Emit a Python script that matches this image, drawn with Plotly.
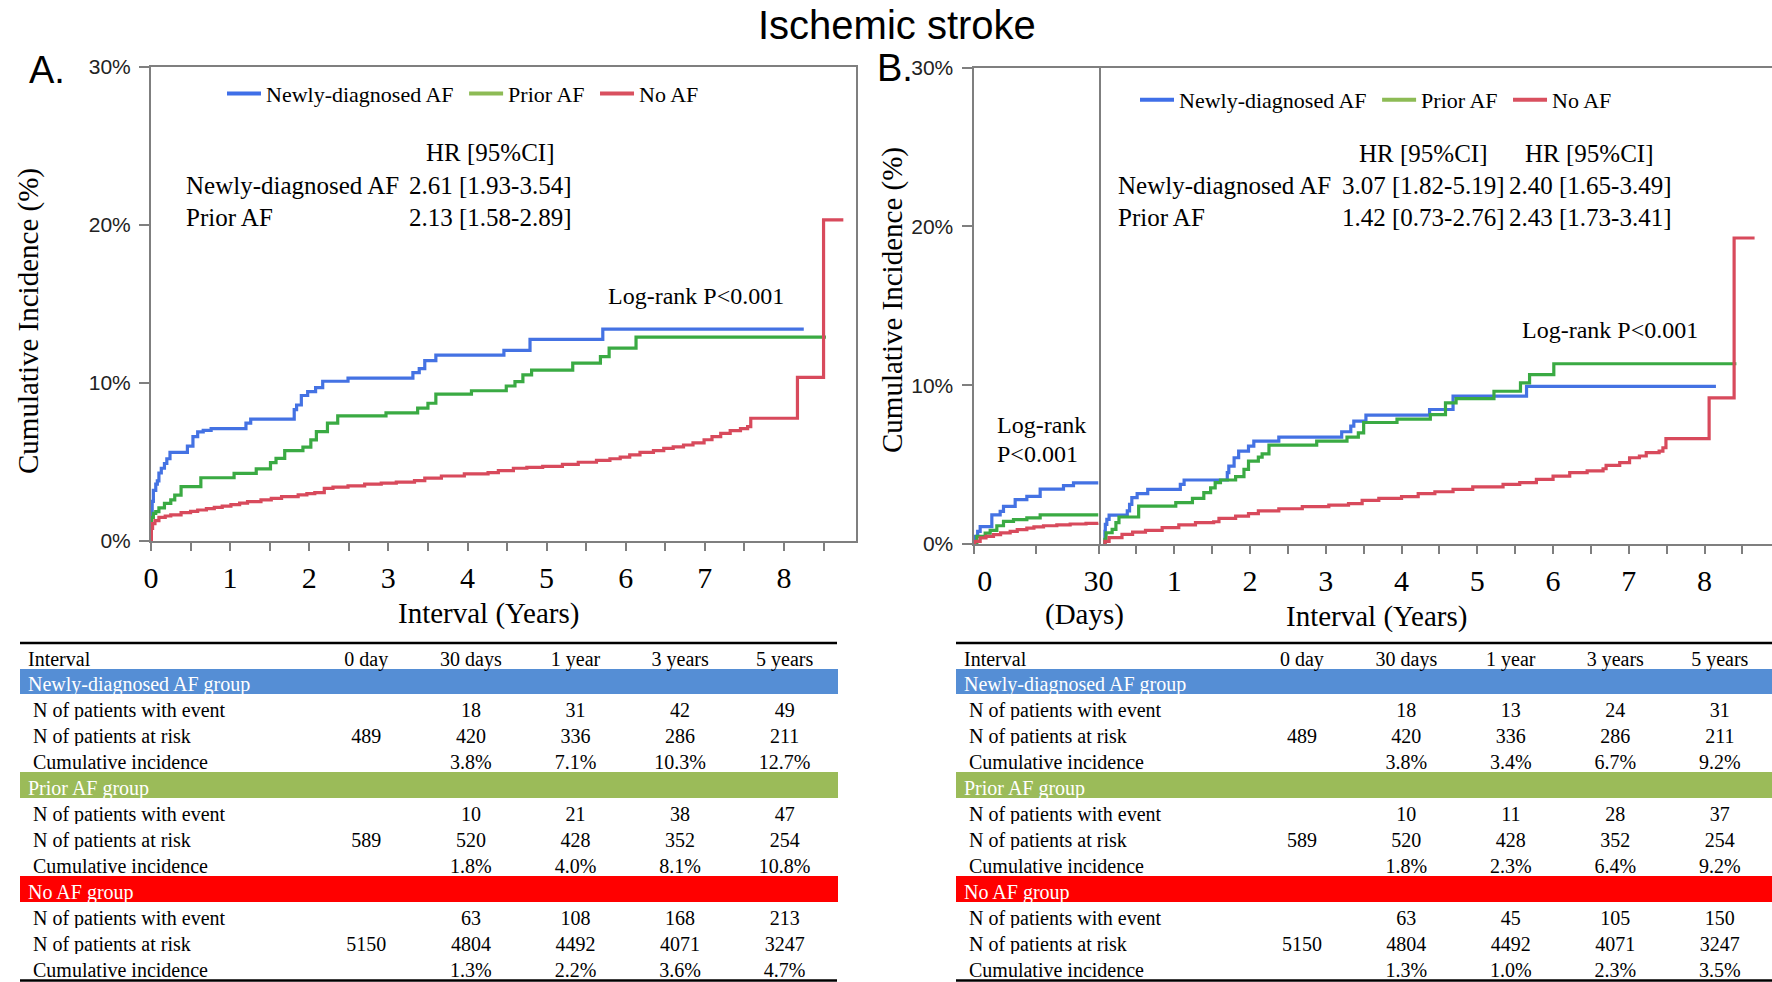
import plotly.graph_objects as go

W, H = 1772, 982
def px(x):
    return x / W
def py(y):
    return 1 - y / H

SERIF = "Liberation Serif"
SANS = "Liberation Sans"

series_names = ["Newly-diagnosed AF", "Prior AF", "No AF"]
line_colors = ["#4472E3", "#3AAA43", "#D84A5C"]
legend_colors = ["#3F6FE8", "#8DBB55", "#D9505F"]
band_colors = ["#558ED5", "#9BBB59", "#FF0000"]

# ---------------- Panel A (years) ----------------
A_nd_t = [0, 0.005, 0.015, 0.03, 0.06, 0.08, 0.10, 0.13, 0.17, 0.20, 0.24, 0.46, 0.53, 0.59, 0.66, 0.76,
          1.20, 1.26, 1.81, 1.84, 1.90, 1.98, 2.08, 2.17, 2.49, 3.31, 3.39, 3.46, 3.60, 4.46, 4.79, 5.71, 8.25]
A_nd_v = [0, 1.5, 2.5, 3.2, 3.6, 3.8, 4.3, 4.6, 4.9, 5.2, 5.6, 6.0, 6.6, 6.9, 7.0, 7.1,
          7.45, 7.7, 8.3, 8.6, 9.2, 9.45, 9.7, 10.1, 10.3, 10.65, 10.9, 11.4, 11.75, 12.05, 12.75, 13.4, 13.4]

A_pr_t = [0, 0.005, 0.03, 0.06, 0.10, 0.17, 0.25, 0.30, 0.38, 0.63, 1.05, 1.33, 1.51, 1.58, 1.69, 1.92,
          2.02, 2.09, 2.23, 2.36, 2.97, 3.37, 3.50, 3.60, 4.05, 4.49, 4.60, 4.70, 4.81, 5.33, 5.68, 5.79, 6.13, 8.53]
A_pr_v = [0, 1.5, 1.75, 1.86, 2.1, 2.38, 2.6, 2.9, 3.44, 4.0, 4.28, 4.56, 4.96, 5.23, 5.72, 5.93,
          6.39, 6.92, 7.45, 7.91, 8.1, 8.4, 8.71, 9.28, 9.5, 9.8, 10.08, 10.5, 10.8, 11.24, 11.66, 12.2, 12.89, 12.89]

A_no_t = [0, 0.005, 0.02, 0.05, 0.1, 0.18, 0.25, 0.38, 0.5, 0.59, 0.7, 0.8, 0.9, 1.01, 1.12, 1.22, 1.39,
          1.52, 1.65, 1.86, 1.97, 2.07, 2.19, 2.3, 2.49, 2.7, 2.91, 3.1, 3.33, 3.46, 3.67, 3.96, 4.26, 4.39,
          4.58, 4.75, 4.95, 5.2, 5.4, 5.63, 5.8, 5.93, 6.05, 6.18, 6.35, 6.48, 6.6, 6.73, 6.85, 6.99, 7.09,
          7.2, 7.32, 7.45, 7.54, 7.58, 8.17, 8.50, 8.75]
A_no_v = [0, 0.8, 1.1, 1.29, 1.5, 1.58, 1.65, 1.79, 1.87, 1.96, 2.05, 2.13, 2.2, 2.3, 2.4, 2.49, 2.6,
          2.7, 2.8, 2.91, 3.0, 3.06, 3.33, 3.4, 3.48, 3.6, 3.66, 3.72, 3.82, 3.97, 4.11, 4.24, 4.32, 4.45,
          4.6, 4.65, 4.72, 4.85, 4.98, 5.1, 5.2, 5.3, 5.45, 5.6, 5.72, 5.85, 5.95, 6.07, 6.2, 6.4, 6.6,
          6.8, 6.98, 7.1, 7.23, 7.76, 10.35, 20.3, 20.3]

# ---------------- Panel B, first 30 days ----------------
B_d_nd_t = [0, 0.4, 1.0, 1.6, 4.4, 6.4, 7.2, 10, 12.8, 16, 21.6, 24, 30]
B_d_nd_v = [0, 0.48, 0.8, 1.1, 1.84, 2.05, 2.37, 2.79, 3.0, 3.46, 3.67, 3.85, 3.85]
B_d_pr_t = [0, 0.8, 2.8, 4.0, 5.6, 7.2, 9.6, 12.8, 16, 30]
B_d_pr_v = [0, 0.48, 0.69, 0.86, 1.15, 1.43, 1.53, 1.64, 1.84, 1.84]
B_d_no_t = [0, 0.3, 1.6, 3, 4.8, 6.5, 8.8, 10.5, 12.8, 14.5, 16.8, 20, 23.2, 27, 30]
B_d_no_v = [0, 0.17, 0.38, 0.48, 0.59, 0.7, 0.8, 0.9, 1.0, 1.08, 1.15, 1.2, 1.26, 1.3, 1.32]

# ---------------- Panel B, landmark after 30 days (years) ----------------
B_y_nd_t = [0.082, 0.085, 0.09, 0.11, 0.14, 0.38, 0.41, 0.44, 0.51, 0.65, 1.08, 1.13, 1.70, 1.72, 1.79,
            1.85, 1.98, 2.05, 2.38, 3.21, 3.33, 3.37, 3.53, 4.37, 4.68, 5.65, 8.15]
B_y_nd_v = [0, 0.8, 1.23, 1.55, 1.82, 2.08, 2.5, 2.92, 3.17, 3.44, 3.75, 4.03, 4.5, 4.91, 5.43,
            5.85, 6.16, 6.48, 6.73, 7.07, 7.42, 7.74, 8.12, 8.47, 9.31, 9.92, 9.92]
B_y_pr_t = [0.082, 0.085, 0.10, 0.18, 0.23, 0.27, 0.53, 1.02, 1.24, 1.39, 1.48, 1.54, 1.61, 1.81, 1.92,
            1.98, 2.11, 2.16, 2.25, 2.88, 3.28, 3.43, 3.50, 3.94, 4.38, 4.58, 4.72, 5.22, 5.57, 5.69, 6.01, 8.42]
B_y_pr_v = [0, 0.29, 0.71, 0.92, 1.34, 1.7, 2.39, 2.6, 2.87, 3.23, 3.54, 3.86, 4.03, 4.24, 4.7,
            5.22, 5.47, 5.68, 6.23, 6.48, 6.73, 7.0, 7.65, 7.86, 8.15, 8.89, 9.16, 9.62, 10.15, 10.67, 11.35, 11.35]
B_y_no_t = [0.082, 0.085, 0.14, 0.31, 0.45, 0.62, 0.84, 1.06, 1.28, 1.52, 1.59, 1.81, 1.98, 2.11, 2.38,
            2.69, 3.04, 3.3, 3.48, 3.7, 4.0, 4.22, 4.44, 4.68, 4.94, 5.34, 5.56, 5.78, 6.0, 6.22, 6.45,
            6.66, 6.7, 6.88, 7.01, 7.14, 7.23, 7.4, 7.45, 7.49, 8.06, 8.39, 8.66]
B_y_no_v = [0, 0.16, 0.4, 0.61, 0.75, 0.86, 1.03, 1.2, 1.34, 1.4, 1.61, 1.76, 1.91, 2.08, 2.22,
            2.35, 2.45, 2.54, 2.75, 2.87, 2.98, 3.17, 3.29, 3.44, 3.6, 3.75, 3.86, 4.07, 4.28, 4.49, 4.6,
            4.74, 4.95, 5.12, 5.43, 5.54, 5.75, 5.85, 6.06, 6.63, 9.2, 19.27, 19.27]

# ---------------- Tables ----------------
interval_labels = ["Interval", "0 day", "30 days", "1 year", "3 years", "5 years"]
group_labels = ["Newly-diagnosed AF group", "Prior AF group", "No AF group"]
row_labels = ["N of patients with event", "N of patients at risk", "Cumulative incidence"]

at_risk_nd = ["489", "420", "336", "286", "211"]
at_risk_pr = ["589", "520", "428", "352", "254"]
at_risk_no = ["5150", "4804", "4492", "4071", "3247"]

A_event_nd = ["", "18", "31", "42", "49"]
A_ci_nd = ["", "3.8%", "7.1%", "10.3%", "12.7%"]
A_event_pr = ["", "10", "21", "38", "47"]
A_ci_pr = ["", "1.8%", "4.0%", "8.1%", "10.8%"]
A_event_no = ["", "63", "108", "168", "213"]
A_ci_no = ["", "1.3%", "2.2%", "3.6%", "4.7%"]

B_event_nd = ["", "18", "13", "24", "31"]
B_ci_nd = ["", "3.8%", "3.4%", "6.7%", "9.2%"]
B_event_pr = ["", "10", "11", "28", "37"]
B_ci_pr = ["", "1.8%", "2.3%", "6.4%", "9.2%"]
B_event_no = ["", "63", "45", "105", "150"]
B_ci_no = ["", "1.3%", "1.0%", "2.3%", "3.5%"]

fig = go.Figure()

def add_curves(ts, vs, xa, ya):
    for t, v, c, n in zip(ts, vs, line_colors, series_names):
        fig.add_trace(go.Scatter(x=t, y=v, mode="lines", line=dict(color=c, width=3.2, shape="hv"),
                                 name=n, showlegend=False, xaxis=xa, yaxis=ya, hoverinfo="skip"))

add_curves([A_nd_t, A_pr_t, A_no_t], [A_nd_v, A_pr_v, A_no_v], "x", "y")
add_curves([B_d_nd_t, B_d_pr_t, B_d_no_t], [B_d_nd_v, B_d_pr_v, B_d_no_v], "x2", "y2")
add_curves([B_y_nd_t, B_y_pr_t, B_y_no_t], [B_y_nd_v, B_y_pr_v, B_y_no_v], "x3", "y2")

for lg, xa, ya in [("legend", "x", "y"), ("legend2", "x2", "y2")]:
    for n, c in zip(series_names, legend_colors):
        fig.add_trace(go.Scatter(x=[None], y=[None], mode="lines", line=dict(color=c, width=4),
                                 name=n + "\u00a0", legend=lg, xaxis=xa, yaxis=ya, showlegend=True))

def build_table(events, risks, cis, x0, x1):
    rows, fills, fcols = [], [], []
    for g, ev, rk, ci, bc in zip(group_labels, events, risks, cis, band_colors):
        rows.append([g, "", "", "", "", ""])
        fills.append(bc)
        fcols.append("white")
        for lab, vals in zip(row_labels, [ev, rk, ci]):
            rows.append(["\u00a0" + lab] + vals)
            fills.append("white")
            fcols.append("black")
    ncol = len(interval_labels)
    cols = [[r[j] for r in rows] for j in range(ncol)]
    fill_cols = [fills for _ in range(ncol)]
    font_cols = [fcols for _ in range(ncol)]
    align = ["left"] + ["center"] * (ncol - 1)
    fig.add_trace(go.Table(
        domain=dict(x=[px(x0), px(x1)], y=[py(982), py(643)]),
        columnwidth=[294, 104.6, 104.6, 104.6, 104.6, 104.6],
        header=dict(values=interval_labels, fill_color="white", align=align,
                    line=dict(width=1, color="white"),
                    font=dict(family=SERIF, size=20, color="black"), height=25),
        cells=dict(values=cols, fill_color=fill_cols, align=align,
                   line=dict(width=1, color=fill_cols),
                   font=dict(family=SERIF, size=20, color=font_cols), height=26),
    ))

build_table([A_event_nd, A_event_pr, A_event_no], [at_risk_nd, at_risk_pr, at_risk_no],
            [A_ci_nd, A_ci_pr, A_ci_no], 20, 837)
build_table([B_event_nd, B_event_pr, B_event_no], [at_risk_nd, at_risk_pr, at_risk_no],
            [B_ci_nd, B_ci_pr, B_ci_no], 956, 1772)

shapes = []
for x0, x1 in [(20, 837), (956, 1772)]:
    for yy in [643, 980.5]:
        shapes.append(dict(type="line", xref="paper", yref="paper", x0=px(x0), x1=px(x1),
                           y0=py(yy), y1=py(yy), line=dict(color="black", width=2.5)))

AX = "#7f7f7f"
tick_font_x = dict(family=SERIF, size=30, color="black")
tick_font_y = dict(family=SANS, size=21, color="#222")

half_years = [i * 0.5 for i in range(18)]
yr_text = [str(int(v)) if v == int(v) else "" for v in half_years]
yr_text_B = ["" if v == 0 else t for v, t in zip(half_years, yr_text)]
day_vals = [0, 15, 30]
day_text = ["\u00a0\u00a0\u00a00", "", "30"]

common_x = dict(showline=True, linecolor=AX, linewidth=2, mirror=True, ticks="outside", ticklen=8,
                tickwidth=2, tickcolor=AX, showgrid=False, zeroline=False, tickfont=tick_font_x,
                ticklabelstandoff=1, automargin=False)
common_y = dict(showline=True, linecolor=AX, linewidth=2, mirror=True, ticks="outside", ticklen=10,
                tickwidth=2, tickcolor=AX, showgrid=False, zeroline=False, tickfont=tick_font_y,
                range=[0, 30], tickvals=[0, 10, 20, 30], ticktext=["0%", "10%", "20%", "30%"],
                ticklabelstandoff=4, automargin=False)

fig.update_layout(
    template="none",
    xaxis=dict(domain=[px(151), px(856)], range=[0, 8.91], anchor="y",
               tickvals=half_years, ticktext=yr_text, **common_x),
    yaxis=dict(domain=[py(541), py(66.5)], anchor="x", **common_y),
    xaxis2=dict(domain=[px(973.5), px(1098.5)], range=[0, 30], anchor="y2",
                tickvals=day_vals, ticktext=day_text, **common_x),
    yaxis2=dict(domain=[py(544), py(67.6)], anchor="x2", **common_y),
    xaxis3=dict(domain=[px(1098.5), 1.0], range=[0, 8.89], anchor="y2",
                tickvals=half_years, ticktext=yr_text_B, **common_x),
)

leg_common = dict(orientation="h", xanchor="left", yanchor="middle", bgcolor="rgba(0,0,0,0)",
                  font=dict(family=SERIF, size=22, color="black"), itemwidth=34, tracegroupgap=0,
                  borderwidth=0)
fig.update_layout(
    legend=dict(x=px(222), y=py(93.6), **leg_common),
    legend2=dict(x=px(1135), y=py(100), **leg_common),
)

ann = []
def txt(text, x, y, size=25, family=SERIF, xanchor="left", angle=0, color="black"):
    ann.append(dict(text=text, x=px(x), y=py(y), xref="paper", yref="paper", showarrow=False,
                    xanchor=xanchor, yanchor="middle", textangle=angle,
                    font=dict(family=family, size=size, color=color)))

txt("Ischemic stroke", 897, 25, size=40, family=SANS, xanchor="center")
txt("A.", 47, 70, size=38, family=SANS, xanchor="center")
txt("B.", 895, 68.5, size=38, family=SANS, xanchor="center")

txt("HR [95%CI]", 424, 153)
txt("Newly-diagnosed AF", 184, 185.5)
txt("2.61 [1.93-3.54]", 407, 185.5)
txt("Prior AF", 184, 217)
txt("2.13 [1.58-2.89]", 407, 217)
txt("Log-rank P<0.001", 606, 296, size=24)
txt("Interval (Years)", 488, 613, size=29, xanchor="center")
txt("Cumulative Incidence (%)", 28, 321, size=29, xanchor="center", angle=-90)

txt("HR [95%CI]", 1357, 154)
txt("HR [95%CI]", 1523, 154)
txt("Newly-diagnosed AF", 1116, 185.5)
txt("3.07 [1.82-5.19]", 1340, 185.5)
txt("2.40 [1.65-3.49]", 1506.5, 185.5)
txt("Prior AF", 1116, 218)
txt("1.42 [0.73-2.76]", 1340, 218)
txt("2.43 [1.73-3.41]", 1506.5, 218)
txt("Log-rank P<0.001", 1520, 330, size=24)
txt("Log-rank", 995, 425, size=24)
txt("P<0.001", 995, 454, size=24)
txt("(Days)", 1084, 614, size=29, xanchor="center")
txt("Interval (Years)", 1376, 616, size=29, xanchor="center")
txt("Cumulative Incidence (%)", 893, 300, size=29, xanchor="center", angle=-90)

fig.update_layout(
    width=W, height=H, margin=dict(l=0, r=0, t=0, b=0, pad=0, autoexpand=False), autosize=False,
    paper_bgcolor="white", plot_bgcolor="white",
    annotations=ann, shapes=shapes,
)

fig.write_html("out.html", post_script="document.body.style.margin='0';")
